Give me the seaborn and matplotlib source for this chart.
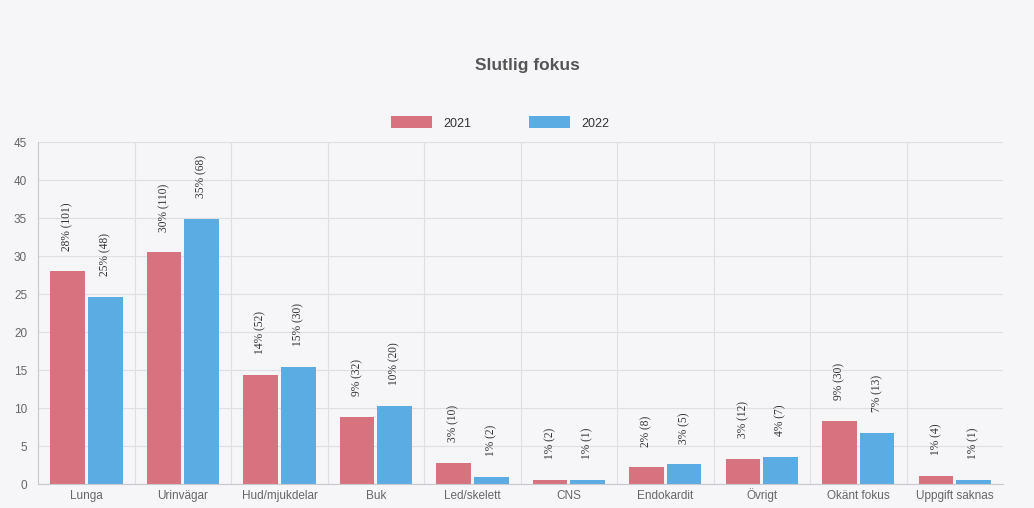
import matplotlib
matplotlib.use("Agg")
import matplotlib.pyplot as plt
from matplotlib.patches import Patch
import seaborn as sns
import pandas as pd

# Final infection focus, share of cases per year (%)
categories = ["Lunga", "Urinvägar", "Hud/mjukdelar", "Buk", "Led/skelett",
              "CNS", "Endokardit", "Övrigt", "Okänt fokus", "Uppgift saknas"]
years = ["2021", "2022"]

share_2021 = [28.0, 30.5, 14.4, 8.9, 2.8, 0.55, 2.2, 3.3, 8.3, 1.1]
share_2022 = [24.6, 34.9, 15.4, 10.3, 1.0, 0.5, 2.6, 3.6, 6.7, 0.5]

# Printed label values: rounded percent and number of cases
pct_label_2021 = [28, 30, 14, 9, 3, 1, 2, 3, 9, 1]
pct_label_2022 = [25, 35, 15, 10, 1, 1, 3, 4, 7, 1]
count_2021 = [101, 110, 52, 32, 10, 2, 8, 12, 30, 4]
count_2022 = [48, 68, 30, 20, 2, 1, 5, 7, 13, 1]

colors = ["#d6737f", "#5aace2"]
bg = "#f6f6f9"
grid_c = "#dedee4"
text_c = "#666666"

df = pd.DataFrame({
    "Fokus": categories * 2,
    "År": [years[0]] * len(categories) + [years[1]] * len(categories),
    "Andel": share_2021 + share_2022,
})

sns.set_theme(style="white")
plt.rcParams["font.family"] = ["Liberation Sans", "DejaVu Sans"]

fig = plt.figure(figsize=(10.34, 5.08), dpi=100, facecolor=bg)
ax = fig.add_axes([0.037, 0.047, 0.933, 0.673])
ax.set_facecolor(bg)

sns.barplot(data=df, x="Fokus", y="Andel", hue="År", order=categories,
            hue_order=years, palette=colors, width=0.78, gap=0.08,
            saturation=1, linewidth=0, edgecolor="none", ax=ax, legend=False)

# Rotated value labels above each bar
label_sets = [(pct_label_2021, count_2021), (pct_label_2022, count_2022)]
for container, (pcts, counts) in zip(ax.containers, label_sets):
    labels = [f"{p}% ({n})" for p, n in zip(pcts, counts)]
    ax.bar_label(container, labels=labels, padding=15, rotation=90,
                 fontsize=8.3, family="Liberation Serif", color="#333333")

ax.set_ylim(0, 45)
ax.set_xlim(-0.5, len(categories) - 0.5)
ax.set_yticks(range(0, 46, 5))
ax.set_xlabel("")
ax.set_ylabel("")

# Category separators and horizontal grid
ax.set_xticks([i + 0.5 for i in range(len(categories) - 1)], minor=True)
ax.grid(axis="y", color=grid_c, linewidth=0.8)
ax.grid(axis="x", which="minor", color=grid_c, linewidth=0.8)
ax.set_axisbelow(True)

ax.tick_params(axis="y", which="major", length=6, color=grid_c,
               labelsize=8.5, labelcolor=text_c, pad=2)
ax.tick_params(axis="x", which="major", length=0, labelsize=8.5,
               labelcolor=text_c, pad=11)
ax.tick_params(axis="x", which="minor", length=6, color=grid_c)
for lbl in ax.get_xticklabels():
    lbl.set_verticalalignment("baseline")

for side in ["top", "right"]:
    ax.spines[side].set_visible(False)
for side in ["left", "bottom"]:
    ax.spines[side].set_color("#c8c8d0")
    ax.spines[side].set_linewidth(0.8)

fig.text(0.51, 0.872, "Slutlig fokus", ha="center", va="center",
         fontsize=12.5, fontweight="bold", color="#555555")

handles = [Patch(facecolor=c, edgecolor="none") for c in colors]
fig.legend(handles, years, loc="center", bbox_to_anchor=(0.484, 0.758),
           ncol=2, frameon=False, handlelength=3.3, handleheight=1.1,
           columnspacing=4.6, handletextpad=0.9, fontsize=9,
           labelcolor="#333333")

fig.savefig("out.png", dpi=100, facecolor=bg)
